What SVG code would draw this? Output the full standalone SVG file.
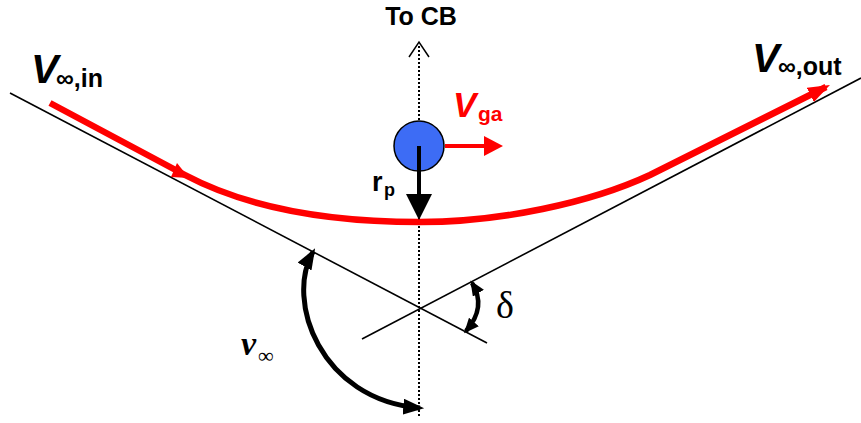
<svg xmlns="http://www.w3.org/2000/svg" width="861" height="423" viewBox="0 0 861 423">
<defs>
<style>
.asym{stroke:#000;stroke-width:1.6;fill:none}
.lbl{font-family:"Liberation Sans",Arial,sans-serif;font-weight:bold}
.grk{font-family:"Liberation Serif","Times New Roman",serif}
</style>
<marker id="bh" viewBox="0 0 10 10" refX="8" refY="5" markerUnits="userSpaceOnUse" markerWidth="21" markerHeight="16" orient="auto-start-reverse" preserveAspectRatio="none">
<path d="M0,0 L10,5 L0,10 z" fill="#000"/>
</marker>
<marker id="sh" viewBox="0 0 10 10" refX="8" refY="5" markerUnits="userSpaceOnUse" markerWidth="15" markerHeight="13" orient="auto-start-reverse" preserveAspectRatio="none">
<path d="M0,0 L10,5 L0,10 z" fill="#000"/>
</marker>
<marker id="rh" viewBox="0 0 10 10" refX="8" refY="5" markerUnits="userSpaceOnUse" markerWidth="22" markerHeight="16" orient="auto" preserveAspectRatio="none">
<path d="M0,0 L10,5 L0,10 z" fill="#ff0000"/>
</marker>
</defs>
<rect width="861" height="423" fill="#fff"/>
<g id="connectors">
<line class="asym" x1="10" y1="93" x2="487" y2="343"/>
<line class="asym" x1="362" y1="339" x2="861" y2="78"/>
<line x1="419" y1="46" x2="419" y2="418" stroke="#000" stroke-width="2" stroke-dasharray="2,2"/>
<polyline points="409,57 419,42 429,57" fill="none" stroke="#000" stroke-width="1.5"/>
<path d="M50,103 L185,175 C255,212 340,222 420,222 C500,222 590,203 650,175 L826,87" fill="none" stroke="#ff0000" stroke-width="6.5" marker-end="url(#rh)"/>
<polygon points="189,178 171,177 177,163" fill="#ff0000"/>
<path d="M313,252 C285,300 320,400 420,408" fill="none" stroke="#000" stroke-width="5" marker-start="url(#bh)" marker-end="url(#bh)"/>
<path d="M472,283 Q487,307 466,331" fill="none" stroke="#000" stroke-width="4.5" marker-start="url(#sh)" marker-end="url(#sh)"/>
</g>
<g id="planet">
<circle cx="419" cy="146" r="25" fill="#3d6cf5" stroke="#000" stroke-width="1.5"/>
</g>
<g id="rp-arrow">
<line x1="419" y1="146" x2="419" y2="197" stroke="#000" stroke-width="4"/>
<polygon points="406,194 432,194 419,220" fill="#000"/>
</g>
<g id="vga-arrow">
<line x1="445" y1="146" x2="487" y2="146" stroke="#ff0000" stroke-width="4"/>
<polygon points="484,136 503,146 484,156" fill="#ff0000"/>
</g>
<g id="labels">
<text class="lbl" x="421" y="25" font-size="25" text-anchor="middle">To CB</text>
<text class="lbl" x="31" y="83" font-size="41" font-style="italic">V</text>
<text class="lbl" x="56" y="87" font-size="25">∞,in</text>
<text class="lbl" x="752" y="72" font-size="41" font-style="italic">V</text>
<text class="lbl" x="778" y="75" font-size="25">∞,out</text>
<text class="lbl" x="453" y="117" font-size="35" font-style="italic" fill="#ff0000">V</text>
<text class="lbl" x="478" y="121" font-size="21" fill="#ff0000">ga</text>
<text class="lbl" x="372" y="191" font-size="27">r</text>
<text class="lbl" x="384" y="196" font-size="18">p</text>
<text class="grk" x="241" y="355" font-size="34" font-weight="bold" font-style="italic">ν</text>
<text class="grk" x="258" y="363" font-size="22">∞</text>
<text class="grk" x="496" y="318" font-size="38">δ</text>
</g>
</svg>
